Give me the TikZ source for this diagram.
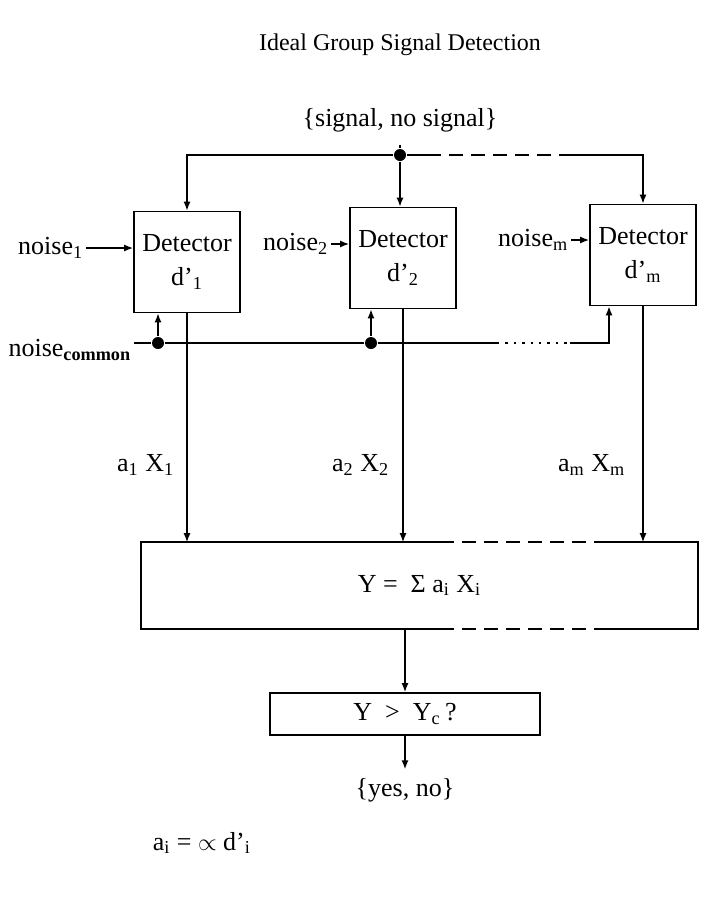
\documentclass[tikz,border=0pt]{standalone}
\usepackage{fontspec}
\setmainfont{Liberation Serif}
\usetikzlibrary{arrows.meta}

\tikzset{
  detbox/.style={draw, minimum width=53pt, minimum height=50.5pt, align=center,
    inner sep=1pt, font=\fontsize{13}{17}\selectfont},
  lbl/.style={inner sep=1pt, font=\fontsize{13}{16}\selectfont},
  junction/.style={circle, fill, inner sep=0pt, minimum size=6pt},
  longdash/.style={dash pattern=on 7pt off 4pt},
  fewdots/.style={dash pattern=on 1.2pt off 3pt},
}

\begin{document}
\begin{tikzpicture}[x=0.5pt, y=0.5pt, line width=0.8pt, >={Latex[length=4.5pt,width=3.5pt]}]
\useasboundingbox (0,0) rectangle (704,-911);

% header
\node[lbl, font=\fontsize{12}{14}\selectfont] (title) at (400,-45) {Ideal Group Signal Detection};
\node[lbl, inner sep=6pt] (sig) at (400,-120) {\{signal, no signal\}};

% detectors
\node[detbox] (det1) at (187,-262) {Detector\\d’\textsubscript{1}};
\node[detbox] (det2) at (403,-258) {Detector\\d’\textsubscript{2}};
\node[detbox] (detm) at (643,-255) {Detector\\d’\textsubscript{m}};

\node[lbl, anchor=east] (noise1) at (86,-248) {noise\textsubscript{1}};
\node[lbl, anchor=east] (noise2) at (331,-244) {noise\textsubscript{2}};
\node[lbl, anchor=east] (noisem) at (571,-240) {noise\textsubscript{m}};
\node[lbl, anchor=east] (noisec) at (134,-350) {noise\textsubscript{\textbf{common}}};

% junctions
\node[junction] (split) at (400,-155) {};
\node[junction] (c1) at (158,-343) {};
\node[junction] (c2) at (371,-343) {};
\coordinate (td1) at (427,-155);
\coordinate (td2) at (570,-155);
\coordinate (cd1) at (497,-343);
\coordinate (cd2) at (570,-343);
\coordinate (cm) at (609,-343);

% signal distribution
\draw (sig.south) -- (split);
\draw[->] (split) -| (det1.north);
\draw[->] (split) -- (split |- det2.north);
\draw (split) -- (td1);
\draw[longdash] (td1) -- (td2);
\draw[->] (td2) -| (detm.north);

% private noise
\draw[->] (noise1.east) -- (noise1.east -| det1.west);
\draw[->] (noise2.east) -- (noise2.east -| det2.west);
\draw[->] (noisem.east) -- (noisem.east -| detm.west);

% common noise
\draw (noisec.east |- c1) -- (c1) -- (c2) -- (cd1);
\draw[fewdots] (cd1) -- (cd2);
\draw[->] (cd2) -- (cm) -- (cm |- detm.south);
\draw[->] (c1) -- (c1 |- det1.south);
\draw[->] (c2) -- (c2 |- det2.south);

% combination
\node[lbl, minimum width=277.5pt, minimum height=42.5pt] (sum) at (419.5,-585.5)
  {Y =\ \ Σ a\textsubscript{i} X\textsubscript{i}};
\coordinate (dashL) at (440,0);
\coordinate (dashR) at (600,0);
\draw (dashL |- sum.north) -- (sum.north west) -- (sum.south west) -- (dashL |- sum.south);
\draw[longdash] (dashL |- sum.north) -- (dashR |- sum.north);
\draw[longdash] (dashL |- sum.south) -- (dashR |- sum.south);
\draw (dashR |- sum.north) -- (sum.north east) -- (sum.south east) -- (dashR |- sum.south);

\draw[->] (det1.south) -- (det1.south |- sum.north);
\draw[->] (det2.south) -- (det2.south |- sum.north);
\draw[->] (detm.south) -- (detm.south |- sum.north);
\node[lbl, anchor=east] (out1) at (177,-465) {a\textsubscript{1} X\textsubscript{1}};
\node[lbl, anchor=east] (out2) at (392,-465) {a\textsubscript{2} X\textsubscript{2}};
\node[lbl, anchor=east] (outm) at (628,-465) {a\textsubscript{m} X\textsubscript{m}};

% decision
\node[lbl, draw, minimum width=135pt, minimum height=21pt] (thr) at (405,-714)
  {Y\ \ >\ \ Y\textsubscript{c}\,?};
\draw[->] (thr.north |- sum.south) -- (thr.north);
\node[lbl, inner sep=4pt] (yesno) at (405,-790) {\{yes, no\}};
\draw[->] (thr.south) -- (yesno.north);

\node[lbl, anchor=west] (note) at (150,-843) {a\textsubscript{i} = $\propto$ d’\textsubscript{i}};
\end{tikzpicture}
\end{document}
